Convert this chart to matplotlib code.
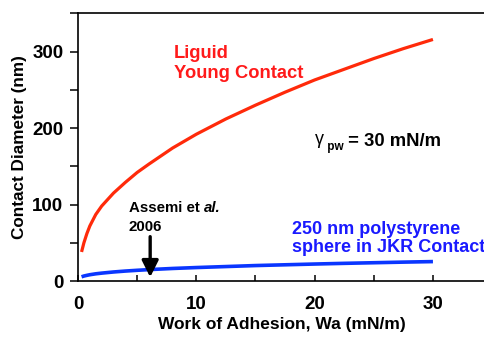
import matplotlib
matplotlib.use("Agg")
import matplotlib.pyplot as plt
from matplotlib.ticker import MultipleLocator

plt.rcParams['font.family'] = ['Liberation Sans', 'DejaVu Sans']
plt.rcParams['font.weight'] = 'bold'

# Data
wa = [0.3, 0.5, 0.75, 1, 1.5, 2, 3, 4, 5, 6, 8, 10, 12.5, 15, 17.5, 20, 22.5, 25, 27.5, 30]
young_diam = [38, 50, 62, 72, 87, 98, 115, 129, 142, 153, 174, 192, 212, 230, 247, 263, 277, 291, 304, 316]
jkr_diam = [5.5, 6.5, 7.4, 8.2, 9.4, 10.3, 11.8, 13.0, 14.0, 14.9, 16.4, 17.6, 18.9, 20.2,
            21.2, 22.2, 23.1, 23.9, 24.7, 25.4]
arrow_x = 6.1
arrow_top = 58
arrow_tip = 5

fig = plt.figure(figsize=(4.85, 3.37), dpi=100)
ax = fig.add_axes([78/485, 1-281/337, 1-78/485, (281-13)/337])

ax.plot(wa, young_diam, color='#FF2A0A', lw=2.3, solid_capstyle='butt')
ax.plot(wa, jkr_diam, color='#0A36FF', lw=2.6, solid_capstyle='butt')

ax.set_xlim(0, 34.4)
ax.set_ylim(0, 350.6)
ax.spines['right'].set_visible(False)
for s in ['left', 'top', 'bottom']:
    ax.spines[s].set_linewidth(1.2)

ax.xaxis.set_major_locator(MultipleLocator(10))
ax.xaxis.set_minor_locator(MultipleLocator(5))
ax.yaxis.set_major_locator(MultipleLocator(100))
ax.yaxis.set_minor_locator(MultipleLocator(50))
ax.tick_params(axis='x', which='both', direction='in', length=4.5, width=1.1, pad=11, labelsize=13.5)
ax.tick_params(axis='y', which='both', direction='out', length=5.5, width=1.1, pad=5, labelsize=13.5)
for lab in ax.get_xticklabels() + ax.get_yticklabels():
    lab.set_fontweight('bold')

ax.set_xlabel('Work of Adhesion, Wa (mN/m)', fontsize=12.5, fontweight='bold', labelpad=3)
ax.set_ylabel('Contact Diameter (nm)', fontsize=12.3, fontweight='bold', labelpad=4)

ax.text(8.1, 284, 'Liguid\nYoung Contact', color='#FF1A1A', fontsize=13.2,
        fontweight='bold', va='center', ha='left', linespacing=1.22)
ax.text(18.05, 55.6, '250 nm polystyrene\nsphere in JKR Contact', color='#1A1AFF',
        fontsize=13, fontweight='bold', va='center', ha='left', linespacing=1.15,
        clip_on=False)
t1 = ax.text(4.3, 95.5, 'Assemi et ', color='black', fontsize=10.8,
             fontweight='bold', va='center', ha='left')
ax.annotate('al.', xy=(1, 0.5), xycoords=t1, va='center', ha='left', fontsize=10.8,
            fontweight='bold', fontstyle='italic', color='black')
ax.text(4.3, 71, '2006', color='black', fontsize=10.8, fontweight='bold',
        va='center', ha='left')

g = ax.text(20.0, 184.5, 'γ', fontsize=13, va='center', ha='left', fontweight='normal')
p = ax.annotate(' pw', xy=(1, 0.1), xycoords=g, va='center', ha='left', fontsize=8.5,
                fontweight='bold')
ax.annotate(' = 30 mN/m', xy=(1, 0.9), xycoords=p, va='center', ha='left',
            fontsize=13.3, fontweight='bold')

ax.annotate('', xy=(arrow_x, arrow_tip), xytext=(arrow_x, arrow_top),
            arrowprops=dict(arrowstyle='-|>,head_length=1.0,head_width=0.5',
                            color='black', lw=2.4, shrinkA=0, shrinkB=0))

fig.savefig('out.png', dpi=100)
